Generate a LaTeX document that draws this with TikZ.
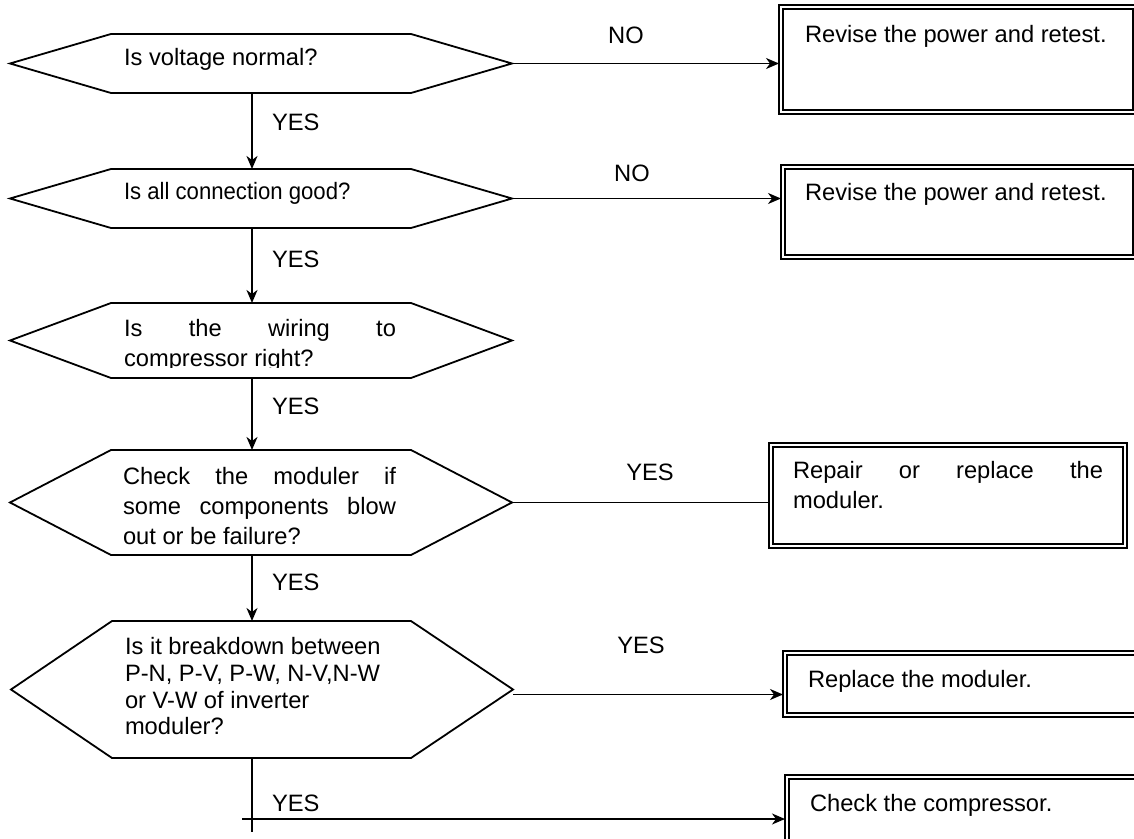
\documentclass[tikz,border=0pt]{standalone}
\usepackage{fontspec}
\setmainfont{Liberation Sans}
\usepackage{graphicx}
\usetikzlibrary{fit,arrows.meta}
\newcommand\dgfont{\fontsize{11.85pt}{15pt}\selectfont}
\begin{document}
\begin{tikzpicture}[x=0.5pt,y=-0.5pt,
  hexline/.style={line width=0.9pt, line join=miter},
  conn/.style={line width=0.8pt},
  arr/.style={conn,-{Stealth[length=6.5pt,width=5.5pt,inset=2pt]}},
  body/.style={inner sep=0pt, outer sep=0pt},
  txt/.style={anchor=base west, inner sep=0pt, outer sep=0pt, font=\dgfont},
  lbl/.style={anchor=base, inner sep=0pt, outer sep=0pt, font=\dgfont},
  outerbox/.style={draw, line width=0.65pt, inner sep=0pt, outer sep=0pt},
  innerline/.style={line width=1pt}
]
\useasboundingbox (0,0) rectangle (1134,839);
\clip (0,0) rectangle (1134,839);

% ---------- hexagon bodies and tips ----------
\coordinate (sx) at (252,0);
\node[body, fit={(111,34)(411,93)}] (h1) {};
\coordinate (h1w) at (10,63.5);  \coordinate (h1e) at (512,63.5);
\node[body, fit={(111,169)(411,228)}] (h2) {};
\coordinate (h2w) at (10,198.5); \coordinate (h2e) at (512,198.5);
\node[body, fit={(111,303)(411,378)}] (h3) {};
\coordinate (h3w) at (10,340.5); \coordinate (h3e) at (512,340.5);
\node[body, fit={(111,450)(411,555)}] (h4) {};
\coordinate (h4w) at (10,502.5); \coordinate (h4e) at (512,502.5);
\node[body, fit={(112,621)(411,758)}] (h5) {};
\coordinate (h5w) at (11,689.5); \coordinate (h5e) at (513,689.5);

\foreach \h in {h1,h2,h3,h4,h5}{
  \draw[hexline] (\h w) -- (\h.north west) -- (\h.north east) -- (\h e)
     -- (\h.south east) -- (\h.south west) -- cycle;
}

% ---------- boxes ----------
\node[outerbox, fit={(779,5)(1137,114)}] (b1) {};
\node[outerbox, fit={(781,165)(1137,259)}] (b2) {};
\node[outerbox, fit={(769,443)(1127,548)}] (b4) {};
\node[outerbox, fit={(783,651)(1150,717)}] (b5) {};
\node[outerbox, fit={(785,775)(1150,860)}] (b6) {};
\foreach \b in {b1,b2,b4,b5,b6}{
  \draw[innerline] ([shift={(4,4)}]\b.north west) rectangle ([shift={(-4,-4)}]\b.south east);
}

% ---------- texts in hexagons ----------
\node[txt] (t1) at (124,66) {Is voltage normal?};
\node[txt] (t2) at (124,200) {\scalebox{0.934}[1]{Is all connection good?}};
\begin{scope}
  \clip (100,300) rectangle (420,367.5);
  \node[txt] (t3a) at (124,336) {\hbox to 136pt{Is\hfill the\hfill wiring\hfill to}};
  \node[txt] (t3b) at (124,366) {compressor right?};
\end{scope}
\begin{scope}
  \clip (100,445) rectangle (420,544.5);
  \node[txt] (t4a) at (123,484) {\hbox to 136.5pt{Check\hfill the\hfill moduler\hfill if}};
  \node[txt] (t4b) at (123,514) {\hbox to 136.5pt{some\hfill components\hfill blow}};
  \node[txt] (t4c) at (123,544) {out or be failure?};
\end{scope}
\node[txt] (t5a) at (125,654) {Is it breakdown between};
\node[txt] (t5b) at (125,681) {P-N, P-V, P-W, N-V,N-W};
\node[txt] (t5c) at (125,708) {or V-W of inverter};
\node[txt] (t5d) at (125,734) {moduler?};

% ---------- texts in boxes ----------
\node[txt] (u1) at (805,43) {Revise the power and retest.};
\node[txt] (u2) at (805,201) {Revise the power and retest.};
\node[txt] (u4a) at (793,478) {\hbox to 155pt{Repair\hfill or\hfill replace\hfill the}};
\node[txt] (u4b) at (793,508) {moduler.};
\node[txt] (u5) at (808,687) {Replace the moduler.};
\node[txt] (u6) at (810,811) {Check the compressor.};

% ---------- vertical connectors ----------
\draw[arr] (h1.south -| sx) -- (h2.north -| sx);
\draw[arr] (h2.south -| sx) -- (h3.north -| sx);
\draw[arr] (h3.south -| sx) -- (h4.north -| sx);
\draw[arr] (h4.south -| sx) -- (h5.north -| sx);
\coordinate (s5end) at (252,832);
\draw[conn] (h5.south -| sx) -- (s5end);

% ---------- horizontal connectors ----------
\draw[arr] (h1e) -- (h1e -| b1.west);
\draw[arr] (h2e) -- (h2e -| b2.west);
\draw[conn] (h4e) -- (h4e -| b4.west);
\draw[arr] ([yshift=-2.5pt]h5e) -- ([yshift=-2.5pt]h5e -| b5.west);
\coordinate (c6) at (242,819);
\draw[arr] (c6) -- (c6 -| b6.west);

% ---------- labels ----------
\node[txt] (y1) at (272,130.5) {YES};
\node[txt] (y2) at (272,268) {YES};
\node[txt] (y3) at (272,415) {YES};
\node[txt] (y4) at (272,590) {YES};
\node[txt] (y5) at (272,811) {YES};
\node[lbl] (n1) at (626,43.5) {NO};
\node[lbl] (n2) at (632,181.5) {NO};
\node[lbl] (y6) at (650,480.5) {YES};
\node[lbl] (y7) at (641,653) {YES};
\end{tikzpicture}
\end{document}
